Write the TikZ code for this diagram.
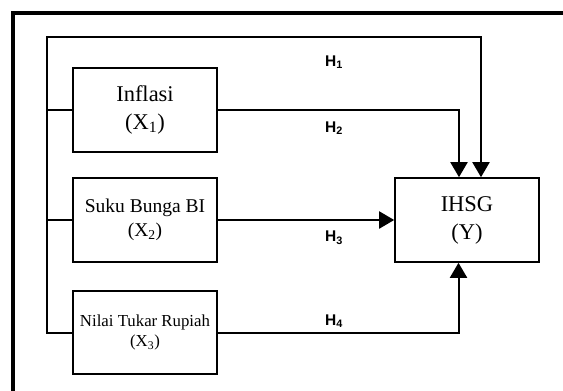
\documentclass[tikz,border=0pt]{standalone}
\usepackage{fontspec}
\setmainfont{Liberation Serif}
\newfontfamily\hfont{Liberation Sans}
\usetikzlibrary{arrows.meta}
\tikzset{
  varbox/.style={draw, line width=1.6pt, minimum width=144pt, minimum height=84pt, inner sep=0pt, align=center},
  conn/.style={line width=2pt},
  arr/.style={conn, -{Triangle[length=15pt,width=17pt]}},
  hlabel/.style={font=\hfont\bfseries\fontsize{15.5}{16}\selectfont, inner sep=0pt},
  frame/.style={line width=3.5pt}
}
\begin{document}
\begin{tikzpicture}[x=1pt,y=-1pt]
\useasboundingbox (0,0) rectangle (563,391);
\fill[white] (0,0) rectangle (563,391);
% outer frame (cropped)
\coordinate (f1) at (13,391);
\coordinate (f2) at (13,13);
\coordinate (f3) at (563,13);
\draw[frame] (f1) -- (f2) -- (f3);
% boxes
\node[varbox, font=\fontsize{22.5}{28}\selectfont] (X1) at (145,110) {Inflasi\\(X\textsubscript{1})};
\node[varbox, font=\fontsize{19.5}{24}\selectfont] (X2) at (145,220) {Suku Bunga BI\\(X\textsubscript{2})};
\node[varbox, font=\fontsize{16.8}{20}\selectfont, minimum height=83pt] (X3) at (145,332.5) {Nilai Tukar Rupiah\\(X\textsubscript{3})};
\node[varbox, font=\fontsize{22.5}{28}\selectfont] (Y) at (467,220) {IHSG\\(Y)};
% bus
\coordinate (bt) at (47,37);
\coordinate (bb) at (47,332.5);
\draw[arr] (X3.west) -- (bb) -- (bt) -| ([xshift=14pt]Y.north);
\draw[conn] (X1.west) -- (X1.west -| bt);
\draw[conn] (X2.west) -- (X2.west -| bt);
% direct paths
\draw[arr] (X1.east) -| ([xshift=-8pt]Y.north);
\draw[arr] (X2.east) -- (Y.west);
\draw[arr] (X3.east) -| ([xshift=-8.5pt]Y.south);
% labels
\node[hlabel] (h1) at (334,62) {H\textsubscript{1}};
\node[hlabel] (h2) at (334,128) {H\textsubscript{2}};
\node[hlabel] (h3) at (334,238) {H\textsubscript{3}};
\node[hlabel] (h4) at (334,321) {H\textsubscript{4}};
\end{tikzpicture}
\end{document}
